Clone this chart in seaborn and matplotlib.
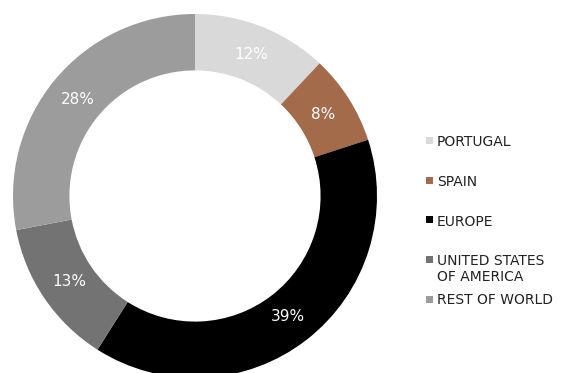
import matplotlib
matplotlib.use("Agg")
import matplotlib.pyplot as plt
import seaborn as sns
from matplotlib.patches import Rectangle

sns.set_theme(style="white")
plt.rcParams['font.family'] = ['DejaVu Sans']

categories = ["PORTUGAL", "SPAIN", "EUROPE", "UNITED STATES\nOF AMERICA", "REST OF WORLD"]
shares = [12, 8, 39, 13, 28]
colors = ["#d9d9d9", "#a36b4a", "#000000", "#737373", "#9c9c9c"]

fig = plt.figure(figsize=(5.62, 3.73), dpi=100)
W, H = 562, 373
cx, cy, R = 195, 196, 182
ax = fig.add_axes([(cx - R) / W, (H - cy - R) / H, 2 * R / W, 2 * R / H])
wedges, texts, autotexts = ax.pie(
    shares, colors=colors, startangle=90, counterclock=False,
    radius=1.0, wedgeprops=dict(width=0.31, edgecolor="none"),
    autopct=lambda p: f"{p:.0f}%", pctdistance=0.835,
    textprops=dict(color="white", fontsize=11),
)
ax.set_xlim(-1, 1)
ax.set_ylim(-1, 1)
ax.set_aspect("equal")
ax.axis("off")

# legend, laid out as in the reference: first lines evenly spaced
y0, dy = 141, 39.5
for i, (lab, col) in enumerate(zip(categories, colors)):
    y = y0 + i * dy
    fig.add_artist(Rectangle((426 / W, 1 - (y + 3.5) / H), 7 / W, 7 / H,
                             transform=fig.transFigure, facecolor=col,
                             edgecolor="none"))
    fig.text(437 / W, 1 - (y - 5.5) / H, lab, ha="left", va="top",
             fontsize=10, color="#222222", linespacing=1.2)

fig.savefig("out.png", dpi=100)
